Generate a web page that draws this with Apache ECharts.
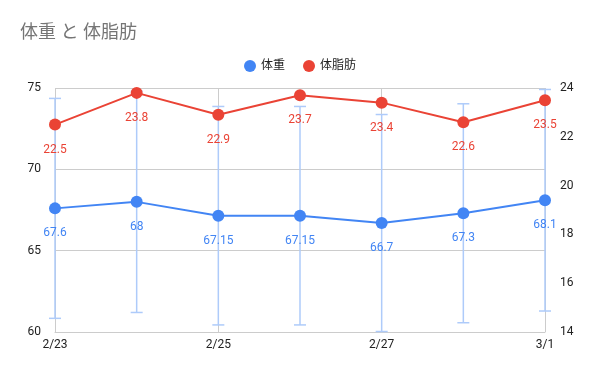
<!DOCTYPE html>
<html><head><meta charset="utf-8">
<script src="https://cdn.jsdelivr.net/npm/echarts@6/dist/echarts.min.js"></script>
<style>html,body{margin:0;padding:0;background:#fff}#c{width:600px;height:371px}</style>
</head><body><div id="c"></div>
<script>
const categories = ['2/23','2/24','2/25','2/26','2/27','2/28','3/1'];
const weight = [67.6, 68, 67.15, 67.15, 66.7, 67.3, 68.1];
const bodyFat = [22.5, 23.8, 22.9, 23.7, 23.4, 22.6, 23.5];
const weightErrLow = [60.84, 61.2, 60.435, 60.435, 60.03, 60.57, 61.29];
const weightErrHigh = [74.36, 74.8, 73.865, 73.865, 73.37, 74.03, 74.91];
const leftTicks = {min: 60, max: 75, interval: 5};
const rightTicks = {min: 14, max: 24, interval: 2};

const font = 'Roboto, "Noto Sans CJK JP", sans-serif';
const chart = echarts.init(document.getElementById('c'), null, {renderer: 'canvas'});
const errData = categories.map((c, i) => [i, weightErrLow[i], weightErrHigh[i]]);
chart.setOption({
  animation: false,
  title: {text: '体重 と 体脂肪', left: 15, top: 20, textStyle: {fontSize: 18, fontWeight: 'normal', color: '#757575', fontFamily: font}},
  legend: {top: 55, left: 'center', itemWidth: 12, itemHeight: 12, itemGap: 18, icon: 'circle',
    textStyle: {fontSize: 12, color: '#222', fontFamily: font},
    data: ['体重', '体脂肪']},
  grid: {left: 55, right: 55, top: 88, bottom: 39},
  xAxis: {type: 'category', data: categories, boundaryGap: false,
    axisLine: {lineStyle: {color: '#ccc'}}, axisTick: {show: false},
    axisLabel: {interval: 1, color: '#222', fontSize: 12, margin: 7, fontFamily: font},
    splitLine: {show: true, interval: 1, lineStyle: {color: '#ccc'}}},
  yAxis: [
    {type: 'value', min: leftTicks.min, max: leftTicks.max, interval: leftTicks.interval,
      axisLine: {show: false}, axisTick: {show: false},
      axisLabel: {color: '#222', fontSize: 12, margin: 14, fontFamily: font},
      splitLine: {lineStyle: {color: '#ccc'}}},
    {type: 'value', min: rightTicks.min, max: rightTicks.max, interval: rightTicks.interval,
      axisLine: {show: false}, axisTick: {show: false},
      axisLabel: {color: '#222', fontSize: 12, margin: 15, fontFamily: font},
      splitLine: {show: false}}
  ],
  series: [
    {type: 'custom', name: 'err', xAxisIndex: 0, yAxisIndex: 0, z: 1, data: errData,
      renderItem: function (params, api) {
        const x = api.value(0);
        const lo = api.coord([x, api.value(1)]);
        const hi = api.coord([x, api.value(2)]);
        const w = 6;
        const style = {stroke: '#aecbfa', lineWidth: 1.5};
        return {type: 'group', children: [
          {type: 'line', shape: {x1: lo[0], y1: lo[1], x2: hi[0], y2: hi[1]}, style: style},
          {type: 'line', shape: {x1: lo[0] - w, y1: lo[1], x2: lo[0] + w, y2: lo[1]}, style: style},
          {type: 'line', shape: {x1: hi[0] - w, y1: hi[1], x2: hi[0] + w, y2: hi[1]}, style: style}
        ]};
      }},
    {type: 'line', name: '体重', yAxisIndex: 0, data: weight, z: 3,
      symbol: 'circle', symbolSize: 12, color: '#4285F4', lineStyle: {width: 2},
      label: {show: true, position: 'bottom', distance: 13, color: '#4285F4', fontSize: 12, fontFamily: font}},
    {type: 'line', name: '体脂肪', yAxisIndex: 1, data: bodyFat, z: 3,
      symbol: 'circle', symbolSize: 12, color: '#EA4335', lineStyle: {width: 2},
      label: {show: true, position: 'bottom', distance: 13, color: '#EA4335', fontSize: 12, fontFamily: font}}
  ]
});
</script></body></html>
